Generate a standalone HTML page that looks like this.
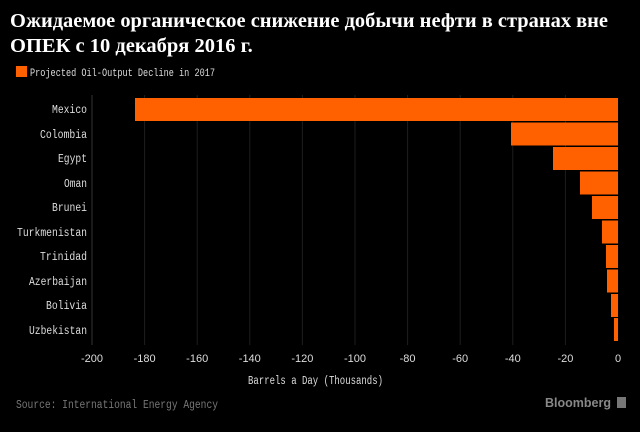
<!DOCTYPE html>
<html><head><meta charset="utf-8"><style>
body{margin:0;background:#000;width:640px;height:427px;overflow:hidden;font-family:"Liberation Sans",sans-serif}
</style></head><body>
<svg width="640" height="427" xmlns="http://www.w3.org/2000/svg">
<rect width="640" height="427" fill="#000"/>
<text x="10" y="27" font-family="Liberation Serif,serif" font-weight="bold" font-size="20.5" fill="#fff" textLength="598" lengthAdjust="spacingAndGlyphs">Ожидаемое органическое снижение добычи нефти в странах вне</text>
<text x="10" y="52" font-family="Liberation Serif,serif" font-weight="bold" font-size="20.5" fill="#fff">ОПЕК с 10 декабря 2016 г.</text>
<rect x="16" y="66" width="11" height="11" fill="#ff6000"/>
<text x="30" y="76" font-family="Liberation Mono,monospace" font-size="11" fill="#ddd" textLength="185" lengthAdjust="spacingAndGlyphs">Projected Oil-Output Decline in 2017</text>
<g stroke="#1e1e1e" stroke-width="1">
<line x1="92" y1="95" x2="92" y2="345" stroke="#333"/>
<line x1="144.6" y1="95" x2="144.6" y2="345"/><line x1="197.2" y1="95" x2="197.2" y2="345"/>
<line x1="249.8" y1="95" x2="249.8" y2="345"/><line x1="302.4" y1="95" x2="302.4" y2="345"/>
<line x1="355" y1="95" x2="355" y2="345"/><line x1="407.6" y1="95" x2="407.6" y2="345"/>
<line x1="460.2" y1="95" x2="460.2" y2="345"/><line x1="512.8" y1="95" x2="512.8" y2="345"/>
<line x1="565.4" y1="95" x2="565.4" y2="345"/>
</g>
<g fill="#ff6000">
<rect x="135" y="98" width="483" height="23"/>
<rect x="511" y="122.5" width="107" height="23"/>
<rect x="553" y="147" width="65" height="23"/>
<rect x="580" y="171.5" width="38" height="23"/>
<rect x="592" y="196" width="26" height="23"/>
<rect x="602" y="220.5" width="16" height="23"/>
<rect x="606" y="245" width="12" height="23"/>
<rect x="607" y="269.5" width="11" height="23"/>
<rect x="611" y="294" width="7" height="23"/>
<rect x="614" y="318" width="4" height="23"/>
</g>
<g font-family="Liberation Mono,monospace" font-size="11.5" fill="#ddd" text-anchor="end">
<text x="87" y="113" textLength="35" lengthAdjust="spacingAndGlyphs">Mexico</text>
<text x="87" y="138" textLength="47" lengthAdjust="spacingAndGlyphs">Colombia</text>
<text x="87" y="162" textLength="29" lengthAdjust="spacingAndGlyphs">Egypt</text>
<text x="87" y="187" textLength="23" lengthAdjust="spacingAndGlyphs">Oman</text>
<text x="87" y="211" textLength="35" lengthAdjust="spacingAndGlyphs">Brunei</text>
<text x="87" y="236" textLength="70" lengthAdjust="spacingAndGlyphs">Turkmenistan</text>
<text x="87" y="260" textLength="47" lengthAdjust="spacingAndGlyphs">Trinidad</text>
<text x="87" y="285" textLength="58" lengthAdjust="spacingAndGlyphs">Azerbaijan</text>
<text x="87" y="309" textLength="41" lengthAdjust="spacingAndGlyphs">Bolivia</text>
<text x="87" y="334" textLength="58" lengthAdjust="spacingAndGlyphs">Uzbekistan</text>
</g>
<g font-family="Liberation Sans,sans-serif" font-size="11" fill="#ddd" text-anchor="middle">
<text x="92" y="362">-200</text><text x="144.6" y="362">-180</text><text x="197.2" y="362">-160</text>
<text x="249.8" y="362">-140</text><text x="302.4" y="362">-120</text><text x="355" y="362">-100</text>
<text x="407.6" y="362">-80</text><text x="460.2" y="362">-60</text><text x="512.8" y="362">-40</text>
<text x="565.4" y="362">-20</text><text x="618" y="362">0</text>
</g>
<text x="248" y="384" font-family="Liberation Mono,monospace" font-size="11.5" fill="#ddd" textLength="135" lengthAdjust="spacingAndGlyphs">Barrels a Day (Thousands)</text>
<text x="16" y="408" font-family="Liberation Mono,monospace" font-size="11.5" fill="#777" textLength="202" lengthAdjust="spacingAndGlyphs">Source: International Energy Agency</text>
<text x="611" y="407" text-anchor="end" font-family="Liberation Sans,sans-serif" font-weight="bold" font-size="12.5" fill="#888">Bloomberg</text>
<rect x="617" y="397" width="9" height="11" fill="#777"/>
</svg>
</body></html>
